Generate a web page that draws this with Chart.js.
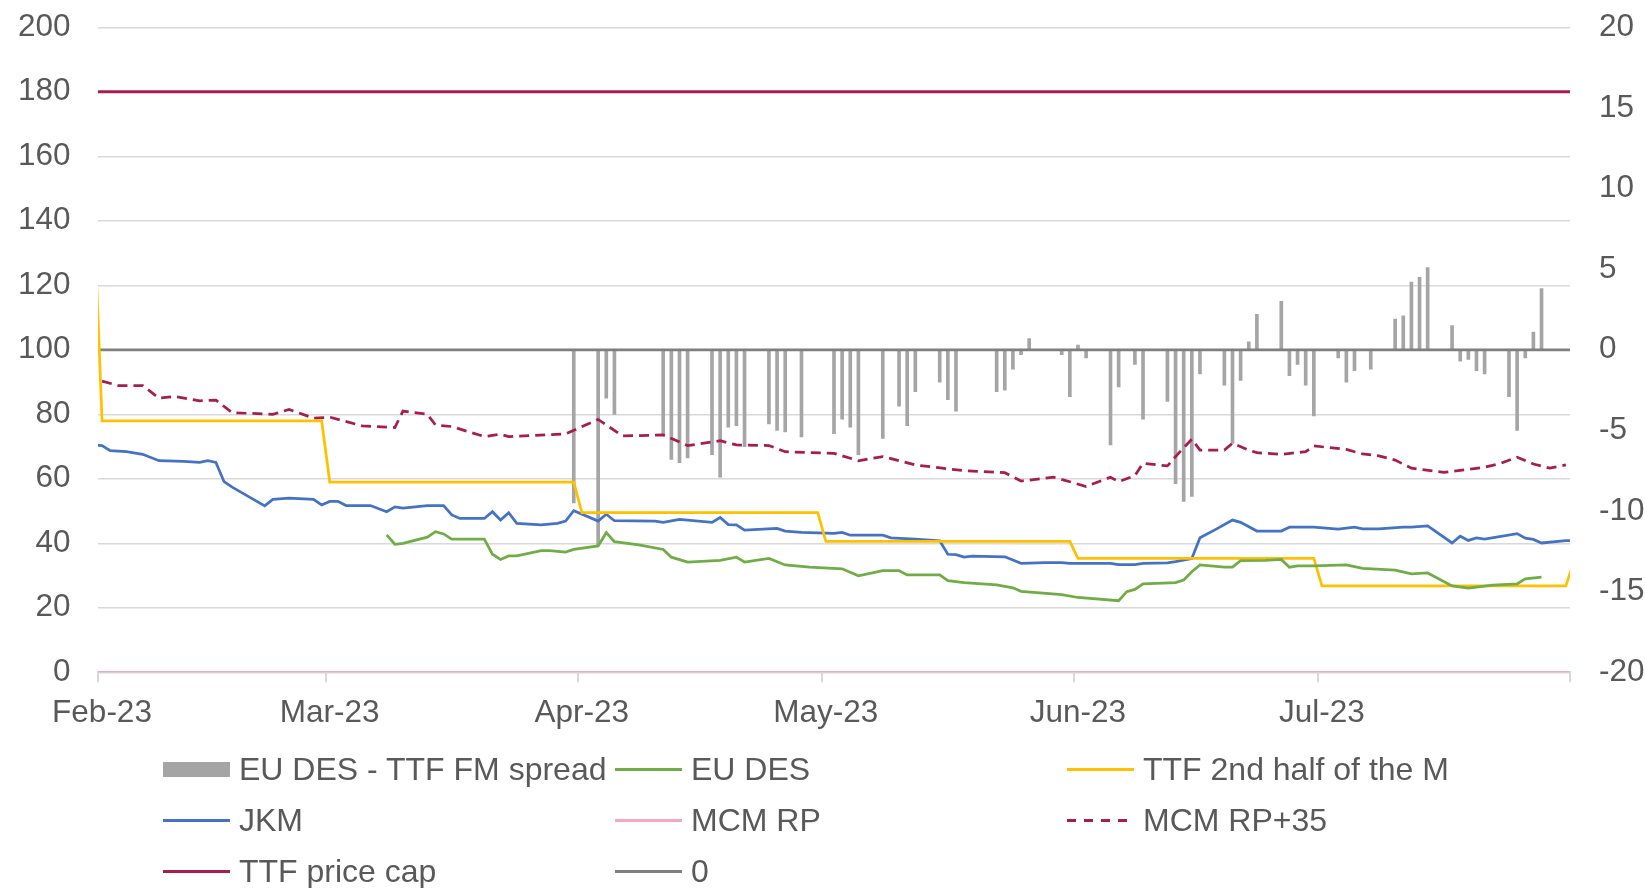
<!DOCTYPE html>
<html lang="en">
<head>
    <meta charset="UTF-8">
    <title>EU DES, TTF and JKM prices</title>
    <script src="https://cdn.jsdelivr.net/npm/chart.js@4.4.0/dist/chart.umd.min.js"></script>
    <style>
        body { margin: 0; background: #fff; }
        #wrap { position: relative; width: 1645px; height: 888px; overflow: hidden; }
        #legend {
            position: absolute; left: 163px; top: 744px;
            display: grid; grid-template-columns: 452px 452px 452px; grid-auto-rows: 51px;
            font-family: "Liberation Sans", Arial, sans-serif; font-size: 32px; color: #595959;
        }
        .item { display: flex; align-items: center; white-space: nowrap; }
        .sym { width: 67px; margin-right: 9px; flex: none; }
    </style>
</head>
<body>
<div id="wrap">
    <canvas id="chart" width="1645" height="888"></canvas>
    <div id="legend"></div>
</div>
<script>
// days counted from 1 Feb 2023 (0 = Feb 1)
var monthTicks = [0, 28, 59, 89, 120, 150, 181];
var monthLabels = ['Feb-23', 'Mar-23', 'Apr-23', 'May-23', 'Jun-23', 'Jul-23', ''];

// EU DES - TTF FM spread (right axis)
var spreadDays = [58,61,62,63,69,70,71,72,75,76,77,78,79,82,83,84,86,90,91,92,93,96,98,99,100,103,104,105,110,111,112,113,114,118,119,120,121,124,125,127,128,131,132,133,134,135,138,139,140,141,142,145,146,147,148,149,152,153,154,156,159,160,161,162,163,166,167,168,169,170,173,174,175,176,177];
var spreadValues = [-9.5,-12.1,-3.0,-4.0,-5.2,-6.8,-7.0,-6.7,-6.5,-7.9,-4.8,-4.7,-6.0,-4.6,-5.0,-5.1,-5.4,-5.2,-4.3,-4.8,-6.5,-5.5,-3.5,-4.7,-2.6,-2.0,-3.1,-3.8,-2.6,-2.5,-1.2,-0.3,0.7,-0.3,-2.9,0.3,-0.5,-5.9,-2.3,-0.9,-4.3,-3.2,-8.3,-9.4,-9.1,-1.5,-2.2,-5.8,-1.9,0.5,2.2,3.0,-1.6,-0.9,-2.2,-4.1,-0.5,-2.0,-1.3,-1.2,1.9,2.1,4.2,4.5,5.1,1.5,-0.7,-0.6,-1.3,-1.5,-2.9,-5.0,-0.5,1.1,3.8];

// EU DES
var euDays = [35,36,37,40,41,42,43,47,48,49,50,51,54,55,57,58,61,62,63,66,69,70,72,76,78,79,82,84,87,91,93,96,98,99,103,104,106,110,112,113,118,120,125,126,127,128,132,133,134,135,138,139,140,143,145,146,147,149,153,155,159,161,163,166,168,171,174,175,177];
var euValues = [42.6,39.7,40.0,41.9,43.6,42.9,41.3,41.3,36.6,35.0,36.1,36.1,37.7,37.7,37.3,38.1,39.2,43.3,40.5,39.5,38.1,35.7,34.2,34.7,35.7,34.2,35.3,33.3,32.6,32.1,29.9,31.5,31.5,30.2,30.2,28.4,27.8,27.1,26.2,25.1,24.1,23.2,22.2,25.0,25.7,27.4,27.8,28.6,31.2,33.3,32.6,32.6,34.6,34.7,35.0,32.6,33.0,33.0,33.3,32.2,31.7,30.5,30.8,26.8,26.1,27.0,27.4,29.0,29.5];

// TTF 2nd half of the M
var ttfDays = [-1,0,27,28,58,59,88,89,119,120,149,150,180,181];
var ttfValues = [142,78,78,59,59,49.5,49.5,40.6,40.6,35.3,35.3,26.8,26.8,34.6];

// JKM
var jkmDays = [-1,0,1,3,5,7,10,12,13,14,15,16,20,21,23,26,27,28,29,30,33,35,36,37,40,42,43,44,47,48,49,50,51,54,56,57,58,61,62,63,68,69,71,75,76,77,78,79,83,84,86,90,91,92,96,97,100,103,104,105,106,107,111,112,113,116,118,119,124,125,127,128,131,132,134,135,137,139,140,142,145,146,149,152,154,155,157,160,161,163,166,167,168,169,170,174,175,176,177,180,181];
var jkmValues = [70.4,70.3,68.7,68.4,67.6,65.6,65.4,65.1,65.6,65.1,59.1,57.4,51.6,53.6,54.0,53.6,51.9,53.0,53.0,51.7,51.7,49.8,51.3,50.9,51.7,51.7,48.8,47.7,47.7,49.8,47.2,49.5,46.2,45.7,46.2,46.9,50.1,46.9,49.0,47.0,46.9,46.5,47.4,46.5,48.0,45.8,45.7,44.1,44.6,43.8,43.4,43.1,43.4,42.5,42.5,41.7,41.3,40.8,36.6,36.5,35.7,36.0,35.8,34.8,33.8,34.0,34.0,33.8,33.8,33.4,33.4,33.8,33.9,34.3,35.3,41.7,44.4,47.2,46.5,43.8,43.8,45.0,45.0,44.4,45.0,44.5,44.5,45.0,45.0,45.4,40.1,42.2,40.9,41.7,41.3,43.0,41.6,41.2,40.1,40.8,40.9];

// MCM RP and MCM RP+35
var mcmDays = [-1, 181];
var mcmValues = [0, 0];
var mcm35Days = [0,2,5,7,9,12,14,16,21,23,26,28,32,36,37,40,41,43,47,49,50,57,61,64,69,72,76,78,82,84,90,93,96,100,106,111,113,117,119,121,124,125,127,128,131,132,134,135,138,139,141,142,145,148,149,153,155,157,159,161,165,170,172,174,176,178,180];
var mcm35Values = [90.3,88.9,88.9,85.0,85.5,84.2,84.4,80.5,80.0,81.5,78.8,79.1,76.4,75.9,81.0,80.0,76.7,76.2,73.1,73.8,73.1,73.9,78.4,73.3,73.6,70.3,71.8,70.5,70.3,68.4,67.9,65.6,66.9,64.3,62.5,61.9,59.3,60.5,59.1,57.6,60.5,59.1,61.0,64.8,64.0,66.9,72.3,68.9,68.9,71.0,68.9,68.1,67.6,68.4,70.2,69.1,67.7,67.1,65.8,63.3,62.0,63.6,64.8,66.7,64.6,63.3,64.3];

// TTF price cap and the zero line of the spread
var capDays = [-1, 181];
var capValues = [180, 180];
var zeroDays = [-1, 181];
var zeroValues = [0, 0];

// each day is drawn at the middle of its slot
function pts(days, values) {
    return days.map(function (d, i) { return { x: d + 0.5, y: values[i] }; });
}

var font = { family: '"Liberation Sans", Arial, sans-serif', size: 31.5 };
var textColor = '#595959';

function line(label, days, values, color, extra) {
    var ds = {
        type: 'line', label: label, data: pts(days, values), yAxisID: 'y',
        borderColor: color, backgroundColor: color, borderWidth: 2.75,
        pointRadius: 0, tension: 0, fill: false, order: 1
    };
    return Object.assign(ds, extra || {});
}

var datasets = [
    {
        type: 'bar', label: 'EU DES - TTF FM spread', data: pts(spreadDays, spreadValues),
        yAxisID: 'y2', backgroundColor: '#A5A5A5', barThickness: 3, order: 9
    },
    line('EU DES', euDays, euValues, '#70AD47'),
    line('TTF 2nd half of the M', ttfDays, ttfValues, '#FFC000'),
    line('JKM', jkmDays, jkmValues, '#4472C4'),
    line('MCM RP', mcmDays, mcmValues, '#F4A7BF'),
    line('MCM RP+35', mcm35Days, mcm35Values, '#A81D4F', { borderDash: [10, 6] }),
    line('TTF price cap', capDays, capValues, '#A81D4F', { borderWidth: 3 }),
    line('0', zeroDays, zeroValues, '#7F7F7F', { yAxisID: 'y2' })
];

// fixed axis sizes so the plot area sits where it does in the original
function fixY(width) {
    return function (s) { s.width = width; s.paddingTop = 0; s.paddingBottom = 0; };
}

var ctx = document.getElementById('chart').getContext('2d');
var chart = new Chart(ctx, {
    type: 'line',
    data: { datasets: datasets },
    options: {
        responsive: false,
        animation: false,
        layout: { padding: { top: 27.3, bottom: 155.7, left: 0, right: 0 } },
        plugins: { legend: { display: false }, tooltip: { enabled: false } },
        scales: {
            x: {
                type: 'linear', min: 0, max: 181, offset: false,
                afterBuildTicks: function (s) { s.ticks = monthTicks.map(function (v) { return { value: v }; }); },
                afterFit: function (s) { s.height = 60; },
                ticks: {
                    autoSkip: false, maxRotation: 0, padding: 12, labelOffset: 4, color: textColor, font: font,
                    callback: function (v, i) { return monthLabels[i]; }
                },
                grid: { offset: false, drawOnChartArea: false, tickLength: 10, color: '#D9D9D9', lineWidth: 2 },
                border: { color: '#D9D9D9', width: 2 }
            },
            y: {
                position: 'left', min: 0, max: 200,
                afterFit: fixY(98),
                ticks: { stepSize: 20, padding: 27.5, color: textColor, font: font },
                grid: { color: '#D9D9D9', lineWidth: 1.5, drawTicks: false },
                border: { display: false }
            },
            y2: {
                position: 'right', min: -20, max: 20,
                afterFit: fixY(75),
                ticks: { stepSize: 5, padding: 29, color: textColor, font: font },
                grid: { display: false, drawTicks: false },
                border: { display: false }
            }
        }
    }
});

// legend in three columns, as in the original
var legend = document.getElementById('legend');
chart.data.datasets.forEach(function (ds) {
    var item = document.createElement('div');
    item.className = 'item';
    var sym = document.createElement('span');
    sym.className = 'sym';
    if (ds.type === 'bar') {
        sym.style.height = '15px';
        sym.style.background = ds.backgroundColor;
    } else if (ds.borderDash) {
        sym.style.height = '3px';
        sym.style.background = 'repeating-linear-gradient(to right, ' + ds.borderColor + ' 0 9px, transparent 9px 17px)';
    } else {
        sym.style.height = '3px';
        sym.style.background = ds.borderColor;
    }
    var txt = document.createElement('span');
    txt.textContent = ds.label;
    item.appendChild(sym);
    item.appendChild(txt);
    legend.appendChild(item);
});
</script>
</body>
</html>
